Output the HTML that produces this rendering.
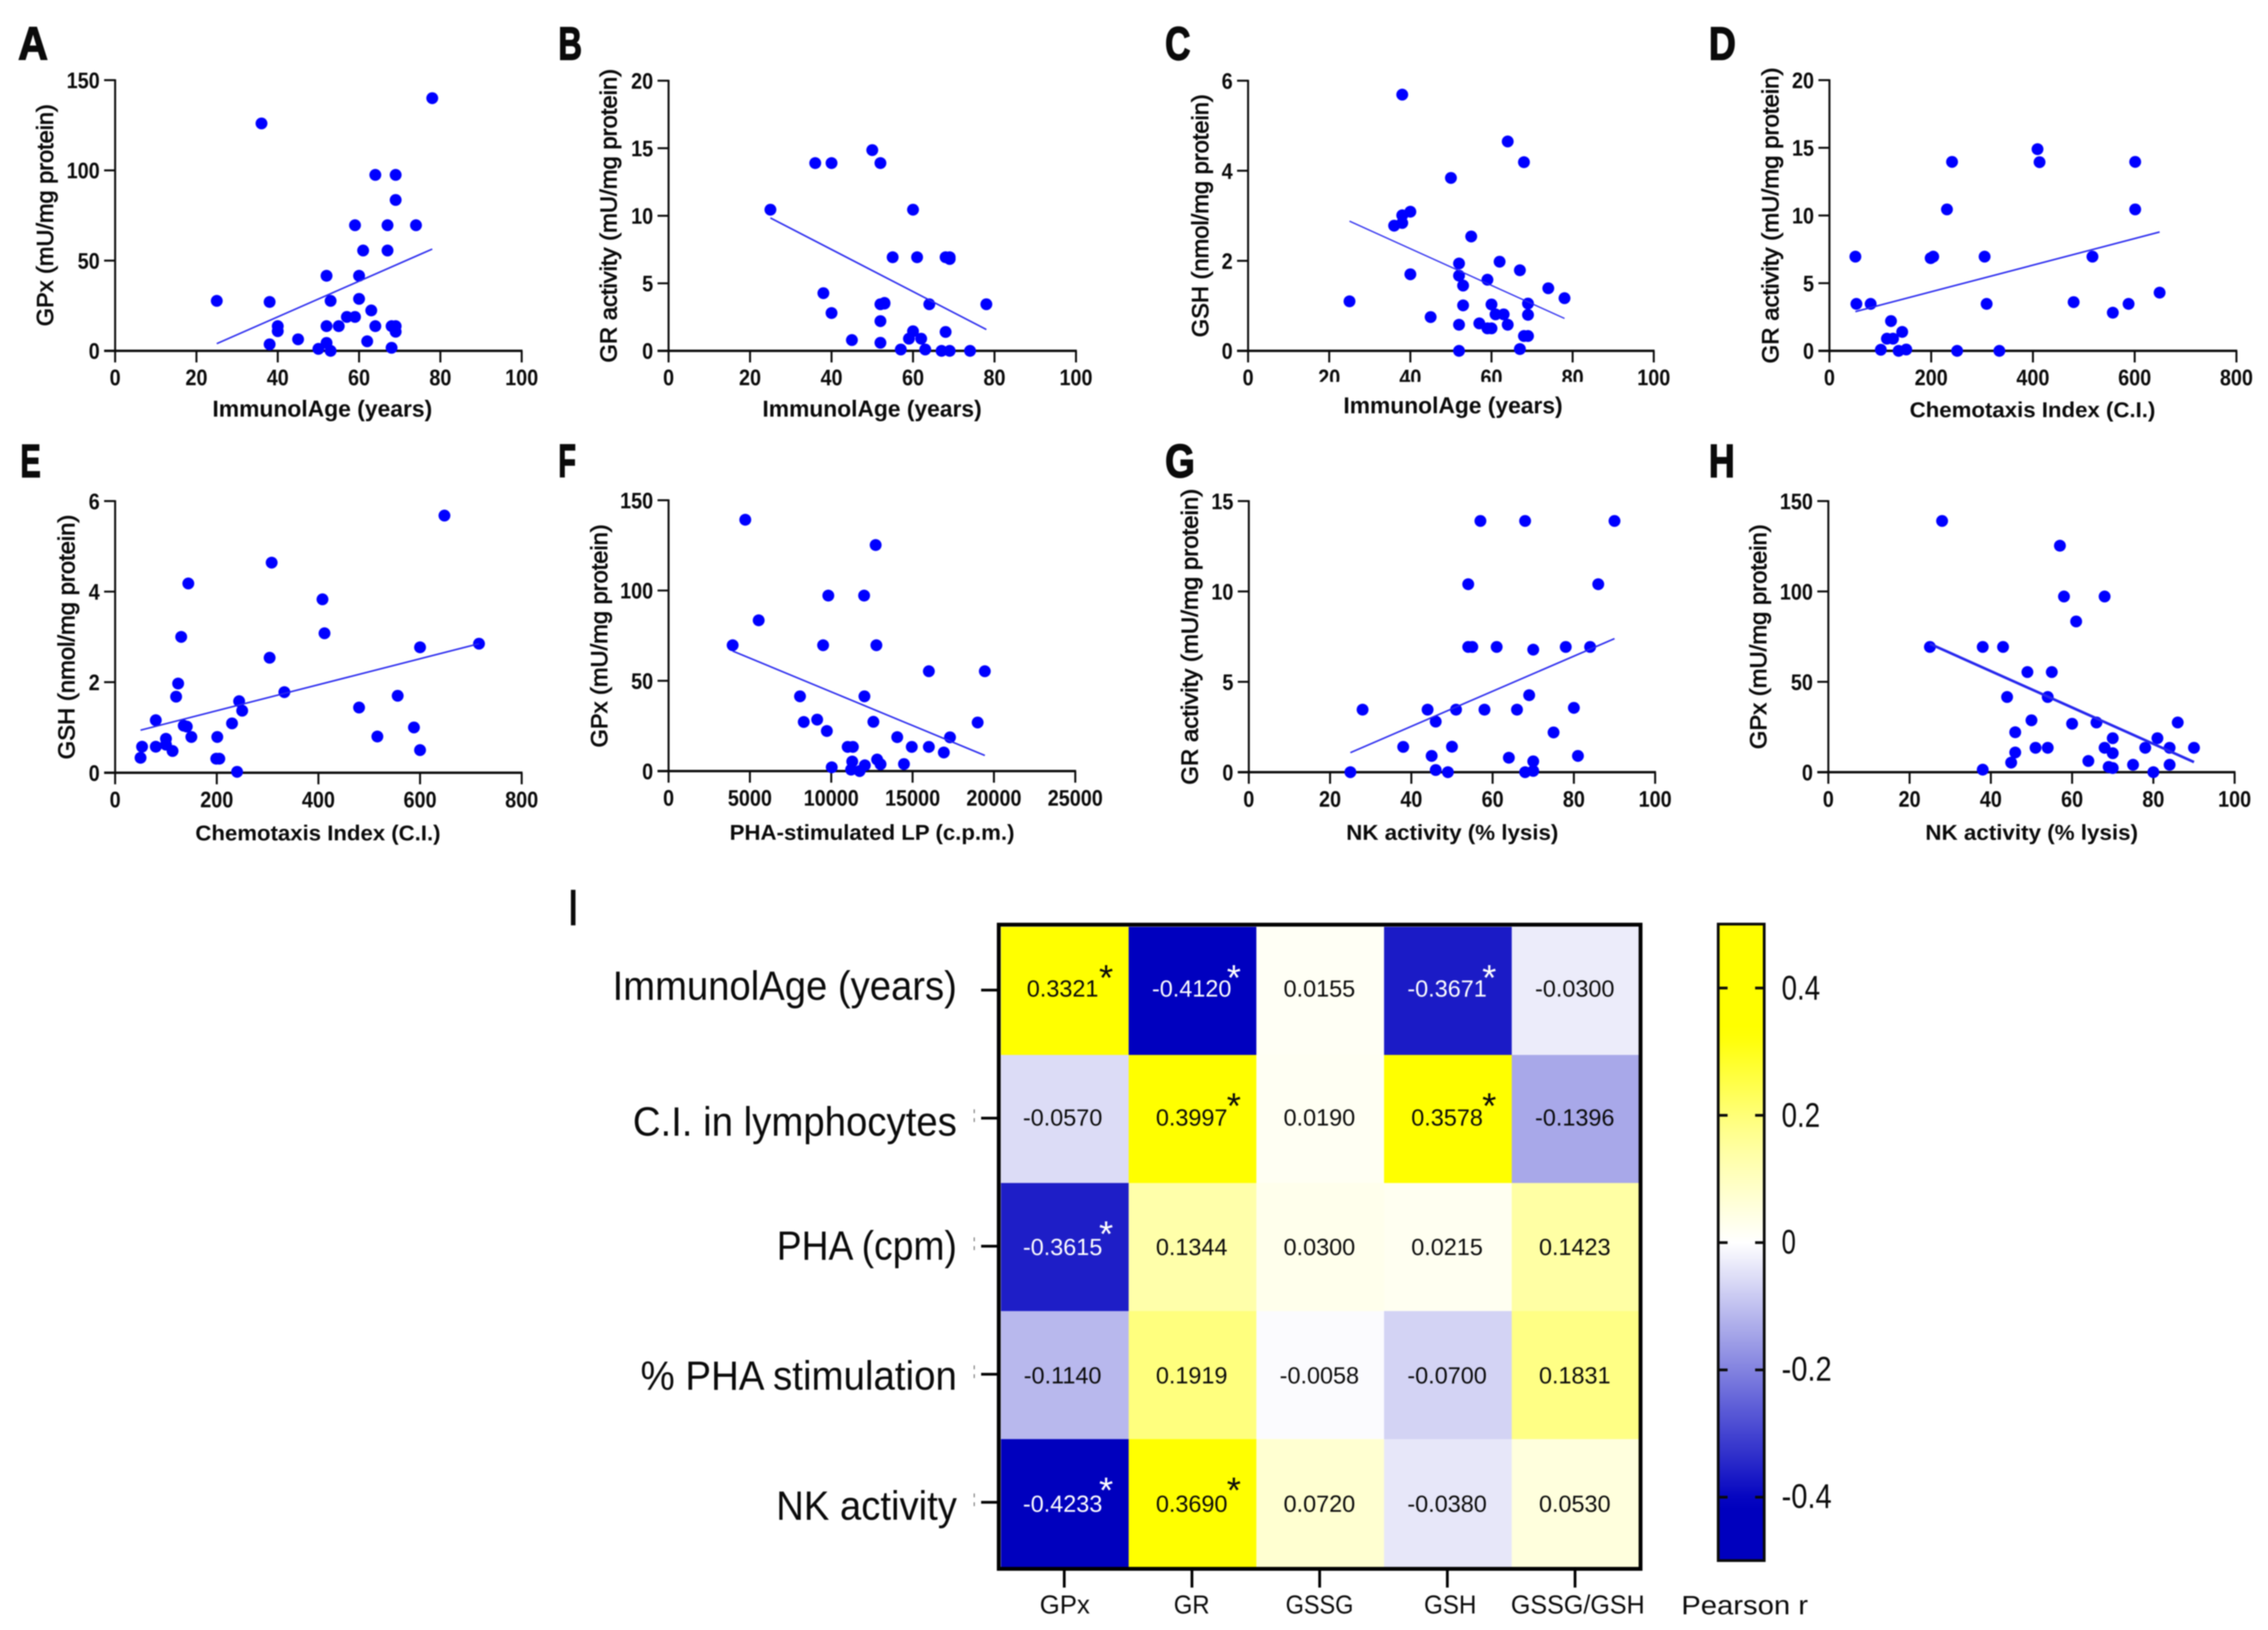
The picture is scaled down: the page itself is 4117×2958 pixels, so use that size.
<!DOCTYPE html>
<html lang="en">
<head>
<meta charset="utf-8">
<title>Correlation scatter plots and Pearson heatmap</title>
<style>
html,body{margin:0;padding:0;background:#fff;width:4117px;height:2958px;overflow:hidden}
#figure{display:block;width:4117px;height:2958px;filter:blur(1.1px)}
text{font-family:"Liberation Sans",Arial,sans-serif;fill:#0a0a0a}
</style>
</head>
<body>
<svg id="figure" xmlns="http://www.w3.org/2000/svg" width="4117" height="2958" viewBox="0 0 4117 2958">
  <defs><linearGradient id="legendGradient" x1="0" y1="0" x2="0" y2="1"></linearGradient></defs>
  <rect x="0" y="0" width="4117" height="2958" fill="#ffffff"></rect>
</svg>
<script>
// ---------- Axis ticks ----------
const ticksAge = [0, 20, 40, 60, 80, 100];
const ticksCI = [0, 200, 400, 600, 800];
const ticksPHA = [0, 5000, 10000, 15000, 20000, 25000];
const ticksGPx = [0, 50, 100, 150];
const ticksGR20 = [0, 5, 10, 15, 20];
const ticksGR15 = [0, 5, 10, 15];
const ticksGSH = [0, 2, 4, 6];

// ---------- Panel A ----------
const panelAx = [36,78,64,69,69,59,67,74,61,67,52,60,60,53,38,25,63,57,59,40,40,52,55,64,68,69,69,45,62,38,52,50,53,68];
const panelAy = [126,140,97.5,97.5,83.6,69.6,69.6,69.6,55.6,55.6,41.6,41.6,28.8,27.7,27.1,27.7,22.4,18.8,18.8,13.7,10.9,13.7,13.7,13.7,13.7,13.7,10.6,6.4,5.3,3.6,4.4,1.1,0,1.7];
const panelATrendX = [25, 78];
const panelATrendY = [4, 56.4];

// ---------- Panel B ----------
const panelBx = [25,36,40,50,52,60,55,61,68,69,69,38,52,53,53,64,78,40,52,68,60,59,62,45,52,57,63,67,69,74];
const panelBy = [10.45,13.9,13.9,14.86,13.9,10.45,6.93,6.93,6.93,6.93,6.8,4.27,3.45,3.5,3.55,3.45,3.45,2.8,2.2,1.4,1.45,0.9,0.9,0.8,0.6,0.1,0.1,0,0,0];
const panelBTrendX = [25, 78];
const panelBTrendY = [9.84, 1.58];

// ---------- Panel C ----------
const panelCx = [38,64,68,50,40,38,38,36,55,52,62,67,52,40,59,53,74,78,25,69,60,53,61,63,69,45,64,52,57,59,60,68,69,67,52];
const panelCy = [5.69,4.65,4.19,3.84,3.09,3.01,2.84,2.78,2.54,1.94,1.98,1.79,1.67,1.7,1.58,1.45,1.39,1.17,1.1,1.05,1.03,1.01,0.81,0.81,0.8,0.75,0.58,0.58,0.61,0.5,0.5,0.33,0.33,0.04,0];
const panelCTrendX = [25, 78];
const panelCTrendY = [2.88, 0.72];

// ---------- Panel D ----------
const panelDx = [51,53,81,101,121,113,125,143,136,151,199,204,231,241,251,305,309,334,409,413,480,517,557,588,601,601,649];
const panelDy = [6.96,3.47,3.47,0.08,2.2,0.9,0.9,1.4,0,0.1,6.85,6.96,10.45,13.96,0,6.96,3.47,0,14.9,13.94,3.6,6.96,2.82,3.47,13.96,10.45,4.3];
const panelDTrendX = [51, 649];
const panelDTrendY = [2.9, 8.78];

// ---------- Panel E ----------
const panelEx = [50,53,80,80,100,100,113,120,124,130,135,141,144,150,201,199,205,230,244,250,240,304,308,333,408,412,480,516,556,588,600,600,648,716];
const panelEy = [0.33,0.575,0.575,1.16,0.75,0.62,0.48,1.68,1.97,3,1.04,1.02,4.18,0.79,0.79,0.31,0.31,1.09,1.58,1.37,0.02,2.54,4.64,1.78,3.83,3.08,1.44,0.8,1.7,1,2.77,0.5,5.68,2.85];
const panelETrendX = [50, 716];
const panelETrendY = [0.94, 2.85];

// ---------- Panel F ----------
const panelFx = [4716,12730,9820,12020,5540,3940,9500,12775,16000,19440,8080,12040,9135,8310,12590,19000,9730,14056,17300,11010,11330,14950,16000,16920,11290,12820,13030,14470,12065,10030,11220,11745];
const panelFy = [139.2,125.2,97.2,97.2,83.5,69.7,69.7,69.7,55.3,55.3,41.4,41.4,28.5,27.2,27.3,26.9,22.2,18.8,18.7,13.4,13.4,13.4,13.4,10.3,5.3,6.4,3.8,3.9,3.2,2.1,0.8,0];
const panelFTrendX = [3940, 19440];
const panelFTrendY = [66.5, 8.65];

// ---------- Panel G ----------
const panelGx = [25,28,38,44,45,46,46,49,50,51,54,54,55,57,58,61,64,66,68,68,69,70,70,70,75,78,80,81,84,86,90];
const panelGy = [0,3.46,1.4,3.46,0.9,2.8,0.12,0,1.41,3.46,10.4,6.93,6.93,13.9,3.46,6.93,0.8,3.46,13.9,0,4.26,6.78,0.6,0.07,2.2,6.93,3.56,0.9,6.93,10.4,13.9];
const panelGTrendX = [25, 90];
const panelGTrendY = [1.08, 7.39];

// ---------- Panel H ----------
const panelHx = [25,28,38,38,43,44,45,46,46,49,50,51,54,54,55,57,58,60,61,64,66,68,68,69,70,70,70,75,78,80,81,84,84,86,90];
const panelHy = [69.3,139,69.3,1.4,69.3,41.6,5.3,10.9,22.1,55.4,28.7,13.5,41.6,13.5,55.4,125.3,97.2,26.8,83.4,6.2,27.5,97.2,13.5,2.9,18.8,10.5,2.3,4.1,13.5,0,18.8,13.5,4.1,27.5,13.5];
const panelHTrendX = [25, 90];
const panelHTrendY = [71, 5.6];

// ---------- Heatmap I ----------
const heatRows = ["ImmunolAge (years)", "C.I. in lymphocytes", "PHA (cpm)", "% PHA stimulation", "NK activity"];
const heatCols = ["GPx", "GR", "GSSG", "GSH", "GSSG/GSH"];
const heatRow1 = [0.3321, -0.4120, 0.0155, -0.3671, -0.0300];
const heatRow2 = [-0.0570, 0.3997, 0.0190, 0.3578, -0.1396];
const heatRow3 = [-0.3615, 0.1344, 0.0300, 0.0215, 0.1423];
const heatRow4 = [-0.1140, 0.1919, -0.0058, -0.0700, 0.1831];
const heatRow5 = [-0.4233, 0.3690, 0.0720, -0.0380, 0.0530];
const heatSigRow1 = [1, 1, 0, 1, 0];
const heatSigRow2 = [0, 1, 0, 1, 0];
const heatSigRow3 = [1, 0, 0, 0, 0];
const heatSigRow4 = [0, 0, 0, 0, 0];
const heatSigRow5 = [1, 1, 0, 0, 0];
const legendTicks = [0.4, 0.2, 0, -0.2, -0.4];
const legendTickLabels = ["0.4", "0.2", "0", "-0.2", "-0.4"];

const NS = "http://www.w3.org/2000/svg";
const root = document.getElementById("figure");

function shape(parent, tag, attrs) {
  const el = document.createElementNS(NS, tag);
  for (const k in attrs) el.setAttribute(k, attrs[k]);
  parent.appendChild(el);
  return el;
}

function label(parent, str, attrs) {
  const el = shape(parent, "text", attrs);
  el.textContent = str;
  return el;
}

function fitted(width) {
  return { textLength: width, lengthAdjust: "spacingAndGlyphs" };
}

function drawPanel(p) {
  const g = shape(root, "g", {});
  
  

  const sx = v => p.x0 + (v - p.xMin) / (p.xMax - p.xMin) * (p.x1 - p.x0);
  const sy = v => p.y0 - v / p.yMax * (p.y0 - p.y1);

  const letter = label(g, p.id.toUpperCase(), Object.assign({ x: p.letterX, y: p.letterY, "font-size": 84, "font-weight": "bold", stroke: "#0a0a0a", "stroke-width": 2.4 }, fitted(p.letterW)));
  
  

  const yAxis = shape(g, "line", { x1: p.x0, x2: p.x0, y1: p.y1 - 1.5, y2: p.y0, stroke: "#0a0a0a", "stroke-width": 3.6 });
  
  

  const xAxis = shape(g, "line", { x1: p.x0 - 20, x2: p.x1 + 1.5, y1: p.y0, y2: p.y0, stroke: "#0a0a0a", "stroke-width": 4.4 });
  
  

  p.yTicks.forEach(t => {
    const tick = shape(g, "line", { x1: p.x0 - 20, x2: p.x0, y1: sy(t), y2: sy(t), stroke: "#0a0a0a", "stroke-width": 3.6 });
    
    
    const txt = label(g, String(t), Object.assign({ x: p.x0 - 28, y: sy(t) + 14.5, "font-size": 41, "font-weight": "bold", "text-anchor": "end" }, fitted(String(t).length * 20)));
    
    
  });

  p.xTicks.forEach(t => {
    const tick = shape(g, "line", { x1: sx(t), x2: sx(t), y1: p.y0, y2: p.y0 + 21, stroke: "#0a0a0a", "stroke-width": 3.6 });
    
    
    const txt = label(g, String(t), Object.assign({ x: sx(t), y: p.y0 + 62.5, "font-size": 41, "font-weight": "bold", "text-anchor": "middle" }, fitted(String(t).length * 20)));
    
    
  });

  if (p.clip) {
    const mask = shape(g, "rect", { x: p.clip[0], y: p.clip[1], width: p.clip[2], height: p.clip[3], fill: "#ffffff" });
    
    
  }

  const xt = label(g, p.xTitle, Object.assign({ x: p.xtL, y: p.xtY, "font-size": p.xtS, "font-weight": "bold" }, fitted(p.xtW)));
  
  

  const yt = label(g, p.yTitle, Object.assign({ x: p.ytX, y: p.ytC, "font-size": 42, "font-weight": "normal", stroke: "#0a0a0a", "stroke-width": 1.3, "text-anchor": "middle", transform: "rotate(-90 " + p.ytX + " " + p.ytC + ")" }, fitted(p.ytW)));
  
  

  p.xs.forEach((xv, i) => {
    const dot = shape(g, "circle", { cx: sx(xv), cy: sy(p.ys[i]), r: 10.8, fill: "#0000ff" });
    
    
  });

  const trend = shape(g, "line", { x1: sx(p.tx[0]), y1: sy(p.ty[0]), x2: sx(p.tx[1]), y2: sy(p.ty[1]), stroke: "#2626ee", "stroke-width": p.tw });
  
  
}

drawPanel({ id: "a", xs: panelAx, ys: panelAy, tx: panelATrendX, ty: panelATrendY, tw: 2.8, xTicks: ticksAge, yTicks: ticksGPx, xMin: 0, xMax: 100, yMax: 150,
  x0: 209, x1: 947, y0: 636.7, y1: 145.4, letterX: 33, letterY: 108, letterW: 54,
  xTitle: "ImmunolAge (years)", xtL: 385.6, xtY: 756, xtW: 399, xtS: 42,
  yTitle: "GPx (mU/mg protein)", ytX: 96, ytC: 390.5, ytW: 403 });
drawPanel({ id: "b", xs: panelBx, ys: panelBy, tx: panelBTrendX, ty: panelBTrendY, tw: 2.8, xTicks: ticksAge, yTicks: ticksGR20, xMin: 0, xMax: 100, yMax: 20,
  x0: 1213.6, x1: 1953.2, y0: 636.7, y1: 146.4, letterX: 1013.5, letterY: 108, letterW: 43,
  xTitle: "ImmunolAge (years)", xtL: 1384, xtY: 756, xtW: 398, xtS: 42,
  yTitle: "GR activity (mU/mg protein)", ytX: 1119, ytC: 391.5, ytW: 533 });
drawPanel({ id: "c", xs: panelCx, ys: panelCy, tx: panelCTrendX, ty: panelCTrendY, tw: 2.3, xTicks: ticksAge, yTicks: ticksGSH, xMin: 0, xMax: 100, yMax: 6,
  x0: 2265.6, x1: 3002, y0: 636.7, y1: 146.4, letterX: 2115, letterY: 108, letterW: 46,
  xTitle: "ImmunolAge (years)", xtL: 2438.6, xtY: 750, xtW: 398, xtS: 42,
  yTitle: "GSH (nmol/mg protein)", ytX: 2193, ytC: 391.5, ytW: 441, clip: [2300, 693, 600, 14] });
drawPanel({ id: "d", xs: panelDx, ys: panelDy, tx: panelDTrendX, ty: panelDTrendY, tw: 2.8, xTicks: ticksCI, yTicks: ticksGR20, xMin: 0, xMax: 800, yMax: 20,
  x0: 3320.9, x1: 4059.7, y0: 636.7, y1: 145.4, letterX: 3102, letterY: 108, letterW: 49,
  xTitle: "Chemotaxis Index (C.I.)", xtL: 3466.5, xtY: 757, xtW: 446, xtS: 39,
  yTitle: "GR activity (mU/mg protein)", ytX: 3228, ytC: 391, ytW: 537 });
drawPanel({ id: "e", xs: panelEx, ys: panelEy, tx: panelETrendX, ty: panelETrendY, tw: 2.8, xTicks: ticksCI, yTicks: ticksGSH, xMin: 0, xMax: 800, yMax: 6,
  x0: 209, x1: 947, y0: 1402.3, y1: 909.3, letterX: 37, letterY: 865.6, letterW: 37,
  xTitle: "Chemotaxis Index (C.I.)", xtL: 354.7, xtY: 1525, xtW: 445, xtS: 39,
  yTitle: "GSH (nmol/mg protein)", ytX: 135, ytC: 1156, ytW: 444 });
drawPanel({ id: "f", xs: panelFx, ys: panelFy, tx: panelFTrendX, ty: panelFTrendY, tw: 2.8, xTicks: ticksPHA, yTicks: ticksGPx, xMin: 0, xMax: 25000, yMax: 150,
  x0: 1213.6, x1: 1951.9, y0: 1399.3, y1: 907.8, letterX: 1013.5, letterY: 865.6, letterW: 32,
  xTitle: "PHA-stimulated LP (c.p.m.)", xtL: 1324.5, xtY: 1524, xtW: 517, xtS: 39,
  yTitle: "GPx (mU/mg protein)", ytX: 1102, ytC: 1154, ytW: 405 });
drawPanel({ id: "g", xs: panelGx, ys: panelGy, tx: panelGTrendX, ty: panelGTrendY, tw: 2.8, xTicks: ticksAge, yTicks: ticksGR15, xMin: 0, xMax: 100, yMax: 15,
  x0: 2266.9, x1: 3004.5, y0: 1401.3, y1: 909.3, letterX: 2115, letterY: 865.6, letterW: 54,
  xTitle: "NK activity (% lysis)", xtL: 2443.8, xtY: 1524, xtW: 385, xtS: 39,
  yTitle: "GR activity (mU/mg protein)", ytX: 2174, ytC: 1155.5, ytW: 537 });
drawPanel({ id: "h", xs: panelHx, ys: panelHy, tx: panelHTrendX, ty: panelHTrendY, tw: 4.8, xTicks: ticksAge, yTicks: ticksGPx, xMin: 0, xMax: 100, yMax: 150,
  x0: 3318.9, x1: 4056.4, y0: 1401.3, y1: 909.3, letterX: 3102, letterY: 865.6, letterW: 47,
  xTitle: "NK activity (% lysis)", xtL: 3495, xtY: 1524, xtW: 386, xtS: 39,
  yTitle: "GPx (mU/mg protein)", ytX: 3206, ytC: 1155.5, ytW: 408 });

// ---------- Heatmap drawing ----------
function heatColor(v) {
  if (v >= 0) {
    let b;
    if (v <= 0.134) b = 255 - 85 * (v / 0.134);
    else if (v <= 0.19) b = 170 - 42 * ((v - 0.134) / 0.056);
    else b = Math.max(0, 128 - 128 * ((v - 0.19) / 0.14));
    return "rgb(255,255," + Math.round(b) + ")";
  }
  const a = -v;
  const rg = Math.max(0, 255 * (1 - a / 0.41));
  const b = Math.max(190, 255 - 155 * a);
  return "rgb(" + Math.round(rg) + "," + Math.round(rg) + "," + Math.round(b) + ")";
}

const heatValues = [heatRow1, heatRow2, heatRow3, heatRow4, heatRow5];
const heatSig = [heatSigRow1, heatSigRow2, heatSigRow3, heatSigRow4, heatSigRow5];
const heatLeft = 1817, heatTop = 1682, cellW = 231.8, cellH = 232.4;
const rowLabelLeft = [1112, 1148.7, 1410, 1162.7, 1409];
const rowLabelBase = [1814.5, 2061, 2286, 2522, 2758];
const rowValueBase = [1808.5, 2042.5, 2277.5, 2510.5, 2743.5];
const colLabelLeft = [1887.4, 2130.7, 2333.8, 2585, 2742.6];
const colLabelWidth = [91, 65, 123, 95, 243];

const heat = shape(root, "g", {});



const letterI = label(heat, "I", Object.assign({ x: 1033.7, y: 1678, "font-size": 90, "font-weight": "bold", stroke: "#0a0a0a", "stroke-width": 2.4 }, fitted(13.5)));



heatValues.forEach((row, r) => {
  row.forEach((v, c) => {
    const cx = heatLeft + cellW * c;
    const cy = heatTop + cellH * r;
    const cell = shape(heat, "rect", { x: cx, y: cy, width: cellW + 0.5, height: cellH + 0.5, fill: heatColor(v) });
    
    
  });
});

const frame = shape(heat, "path", { d: "M1813 2847 V1678 H2978 V2847 Z", fill: "none", stroke: "#000000", "stroke-width": 7 });



heatValues.forEach((row, r) => {
  row.forEach((v, c) => {
    const cx = heatLeft + cellW * (c + 0.5);
    const cy = heatTop + cellH * (r + 0.5);
    const colour = v < -0.3 ? "#ffffff" : "#0a0a0a";
    const val = label(heat, v.toFixed(4), { x: cx - (c === 0 ? 4 : 1.5), y: rowValueBase[r], "font-size": 42.5, "text-anchor": "middle", style: "fill:" + colour });
    
    
    if (heatSig[r][c]) {
      const star = label(heat, "*", { x: cx + 75, y: cy - 1, "font-size": 66, "text-anchor": "middle", style: "fill:" + colour });
      
      
    }
  });
});

heatRows.forEach((name, r) => {
  const tickY = heatTop + cellH * (r + 0.5) - 1.5;
  const tick = shape(heat, "line", { x1: 1781, x2: 1810, y1: tickY, y2: tickY, stroke: "#000000", "stroke-width": 5 });
  
  
  const txt = label(heat, name, Object.assign({ x: rowLabelLeft[r], y: rowLabelBase[r], "font-size": 74 }, fitted(1737 - rowLabelLeft[r])));
  
  
  if (r > 0) {
    const speck = shape(heat, "line", { x1: 1768.5, x2: 1768.5, y1: tickY - 16, y2: tickY + 16, stroke: "#777777", "stroke-width": 2, "stroke-dasharray": "7 9" });
    
    
  }
});

heatCols.forEach((name, c) => {
  const tickX = heatLeft + cellW * (c + 0.5) - 1;
  const tick = shape(heat, "line", { x1: tickX, x2: tickX, y1: 2849, y2: 2881, stroke: "#000000", "stroke-width": 5 });
  
  
  const txt = label(heat, name, Object.assign({ x: colLabelLeft[c], y: 2928, "font-size": 47 }, fitted(colLabelWidth[c])));
  
  
});

// ---------- Colour legend ----------
const grad = document.getElementById("legendGradient");
for (let i = 0; i <= 50; i++) {
  const v = 0.5 - i * 0.02;
  shape(grad, "stop", { offset: (i * 2) + "%", "stop-color": heatColor(v) });
}

const legend = shape(root, "g", {});



const bar = shape(legend, "rect", { x: 3119, y: 1677, width: 83.5, height: 1155, fill: "url(#legendGradient)", stroke: "#0a0a0a", "stroke-width": 5 });



const legendY = v => 2255 - v * 1155;
const legendBaseline = [1814, 2045, 2275, 2505.6, 2736.4];
const legendWidth = [70, 70, 26, 91, 91];
legendTicks.forEach((v, i) => {
  const left = shape(legend, "line", { x1: 3121, x2: 3136, y1: legendY(v), y2: legendY(v), stroke: "#0a0a0a", "stroke-width": 5 });
  
  
  const right = shape(legend, "line", { x1: 3186, x2: 3201, y1: legendY(v), y2: legendY(v), stroke: "#0a0a0a", "stroke-width": 5 });
  
  
  const txt = label(legend, legendTickLabels[i], Object.assign({ x: 3234, y: legendBaseline[i], "font-size": 62 }, fitted(legendWidth[i])));
  
  
});

const legendTitle = label(legend, "Pearson r", Object.assign({ x: 3052, y: 2929.5, "font-size": 48 }, fitted(230)));


</script>
</body>
</html>
